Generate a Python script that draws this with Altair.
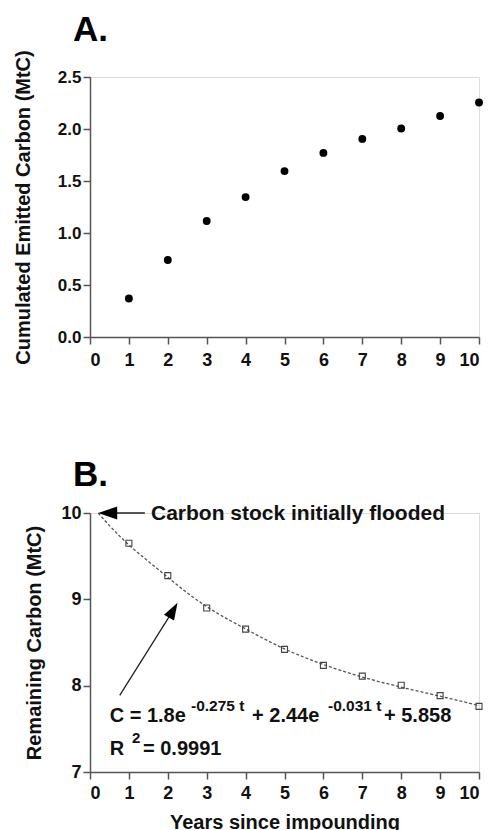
import altair as alt
import pandas as pd

FONT = "Liberation Sans"

# ---------------- data ----------------
years = list(range(1, 11))
emitted = [0.37, 0.74, 1.115, 1.345, 1.595, 1.77, 1.905, 2.005, 2.125, 2.255]
remaining = [9.65, 9.275, 8.90, 8.655, 8.42, 8.235, 8.11, 8.005, 7.885, 7.76]

fit_t = [0.21, 0.5, 1, 1.5, 2, 2.5, 3, 4, 5, 6, 7, 8, 9, 10]
fit_c = [10.0, 9.854, 9.63, 9.44, 9.256, 9.074, 8.916, 8.657, 8.426, 8.245, 8.10, 7.983, 7.878, 7.77]

x_ticks = list(range(0, 11))
top_y_ticks = [0, 0.5, 1.0, 1.5, 2.0, 2.5]
bottom_y_ticks = [7, 8, 9, 10]

# annotation arrows: shafts, then heads (centre, angle, size)
shaft_x1 = [0.455, 0.764]
shaft_y1 = [10.0, 7.887]
shaft_x2 = [1.41, 2.141]
shaft_y2 = [10.0, 8.874]
head_x = [0.455, 2.141]
head_y = [10.0, 8.874]
head_angle = [180, 300]
head_size = [361, 289]

# annotation texts
ann_text = ["Carbon stock initially flooded", "C = 1.8e", "-0.275 t", "+ 2.44e",
            "-0.031 t", "+ 5.858", "R", "2", "= 0.9991"]
ann_x = [1.568, 0.506, 2.596, 4.165, 6.118, 7.558, 0.506, 1.08, 1.362]
ann_y = [9.924, 7.578, 7.705, 7.578, 7.705, 7.578, 7.192, 7.338, 7.192]
ann_size = [21, 20, 15.5, 20, 15.5, 20, 20, 15, 20]

# ---------------- tables ----------------
top_df = pd.DataFrame({"year": years, "emitted": emitted})
pts_df = pd.DataFrame({"t": years, "c": remaining})
fit_df = pd.DataFrame({"t": fit_t, "c": fit_c})
shaft_df = pd.DataFrame({"t": shaft_x1, "c": shaft_y1, "t2": shaft_x2, "c2": shaft_y2})
head_df = pd.DataFrame({"t": head_x, "c": head_y, "angle": head_angle, "size": head_size})
ann_df = pd.DataFrame({"text": ann_text, "t": ann_x, "c": ann_y, "size": ann_size})

AX = dict(domainColor="#555555", tickColor="#555555", domainWidth=1.5, tickWidth=1.5,
          labelFont=FONT, labelFontWeight="bold", labelColor="#111111",
          titleFont=FONT, titleFontWeight="bold", titleColor="#111111", grid=False)

# ---------------- panel A ----------------
xA = alt.X("year:Q", scale=alt.Scale(domain=[0, 10], nice=False),
           axis=alt.Axis(values=x_ticks, format="d", title=None, tickSize=7,
                         labelPadding=7, labelFontSize=18, **AX))
yA = alt.Y("emitted:Q", scale=alt.Scale(domain=[0, 2.5], nice=False),
           axis=alt.Axis(values=top_y_ticks, format=".1f", title="Cumulated Emitted Carbon (MtC)",
                         tickSize=7, labelPadding=2, labelFontSize=17, titleFontSize=20,
                         titlePadding=24, **AX))

pointsA = alt.Chart(top_df).mark_point(filled=True, color="black", size=62, opacity=1).encode(x=xA, y=yA)
labelA = alt.Chart(pd.DataFrame({"l": ["A."]})).mark_text(
    font=FONT, fontWeight="bold", fontSize=35, align="left", baseline="alphabetic", color="black"
).encode(text="l:N", x=alt.value(-17), y=alt.value(-36))

top = alt.layer(pointsA, labelA).properties(width=389, height=260)

# ---------------- panel B ----------------
xB = alt.X("t:Q", scale=alt.Scale(domain=[0, 10], nice=False),
           axis=alt.Axis(values=x_ticks, format="d", title="Years since impounding", tickSize=7,
                         labelPadding=5, labelFontSize=18, titleFontSize=20, titlePadding=10, **AX))
yB = alt.Y("c:Q", scale=alt.Scale(domain=[7, 10], nice=False),
           axis=alt.Axis(values=bottom_y_ticks, format="d", title="Remaining Carbon (MtC)",
                         tickSize=7, labelPadding=2, labelFontSize=18, titleFontSize=20,
                         titlePadding=16, **AX))

curve = alt.Chart(fit_df).mark_line(color="#555555", strokeDash=[3, 2], strokeWidth=1.3,
                                    interpolate="monotone").encode(x=xB, y=yB)
squares = alt.Chart(pts_df).mark_point(shape="square", filled=False, color="#444444", size=36,
                                       strokeWidth=1.1, opacity=1).encode(x=xB, y=yB)
shafts = alt.Chart(shaft_df).mark_rule(color="#222222", strokeWidth=1.3).encode(
    x=xB, y=yB, x2="t2:Q", y2="c2:Q")
heads = alt.Chart(head_df).mark_point(shape="M1,0L-1,-0.68L-1,0.68Z", filled=True, color="black",
                                      opacity=1, strokeWidth=0).encode(
    x=xB, y=yB, angle=alt.Angle("angle:Q", scale=None), size=alt.Size("size:Q", scale=None))
texts = alt.Chart(ann_df).mark_text(font=FONT, fontWeight="bold", align="left",
                                    baseline="alphabetic", color="#111111").encode(
    x=xB, y=yB, text="text:N", size=alt.Size("size:Q", scale=None))
labelB = alt.Chart(pd.DataFrame({"l": ["B."]})).mark_text(
    font=FONT, fontWeight="bold", fontSize=35, align="left", baseline="alphabetic", color="black"
).encode(text="l:N", x=alt.value(-17), y=alt.value(-27))

bottom = alt.layer(curve, squares, shafts, heads, texts, labelB).properties(width=389, height=259)

chart = alt.vconcat(top, bottom, spacing=87).properties(
    padding={"left": 4, "top": 4, "right": 0, "bottom": 0}
).configure_view(stroke=None).configure(background="white")

chart.save("out.html", embed_options={"renderer": "svg", "actions": False})
